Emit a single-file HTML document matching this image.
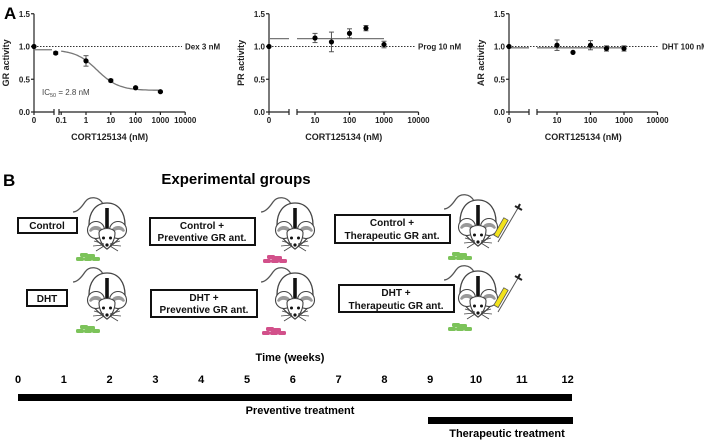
<!DOCTYPE html>
<html><head><meta charset="utf-8">
<style>
html,body{margin:0;padding:0;background:#fff;}
svg{display:block;font-family:"Liberation Sans",Arial,sans-serif;}
.tk{font-size:8px;font-weight:bold;fill:#222;}
.ax{stroke:#222;stroke-width:1.2;fill:none;}
.bx{fill:#fff;stroke:#111;stroke-width:2;}
.bt{font-size:10px;font-weight:bold;fill:#111;text-anchor:middle;font-family:"Liberation Sans Narrow","Liberation Sans",Arial,sans-serif;}
</style></head>
<body>
<svg id="fig" width="704" height="442" viewBox="0 0 704 442">
<defs>
<g id="mouse">
  <path d="M-4,1 C-8,-7 -18,-7 -22,-1 C-26,5 -30,9 -34,9" fill="none" stroke="#555" stroke-width="1.3"/>
  <path d="M0,0 C12,0 18,10 18,22 C18,32 8,40 0,46 C-8,40 -18,32 -18,22 C-18,10 -12,0 0,0Z" fill="#fff" stroke="#444" stroke-width="1.3"/>
  <circle cx="-11" cy="27" r="8.5" fill="#fff" stroke="#444" stroke-width="1.1"/>
  <circle cx="11" cy="27" r="8.5" fill="#fff" stroke="#444" stroke-width="1.1"/>
  <path d="M-18,28 A7,6 0 0 1 -5,26 L-8,28 A5,4 0 0 0 -16,29Z" fill="#999"/>
  <path d="M18,28 A7,6 0 0 0 5,26 L8,28 A5,4 0 0 1 16,29Z" fill="#999"/>
  <path d="M-8,30 C-8,24 8,24 8,30 C8,38 3,44 0,46 C-3,44 -8,38 -8,30Z" fill="#fff" stroke="#444" stroke-width="1.1"/>
  <rect x="-1.8" y="5" width="3.6" height="20" fill="#111"/>
  <circle cx="-3.5" cy="35" r="1.5" fill="#111"/><circle cx="3.5" cy="35" r="1.5" fill="#111"/>
  <circle cx="0" cy="42" r="1.6" fill="#111"/>
  <path d="M-3,41 L-13,38 M-3,42 L-14,43 M-3,43 L-11,48 M3,41 L13,38 M3,42 L14,43 M3,43 L11,48" stroke="#444" stroke-width="0.8"/>
</g>
<g id="pellets">
  <rect x="4" y="0" width="8" height="4" rx="1.5"/><rect x="11" y="1" width="8" height="4" rx="1.5"/>
  <rect x="0" y="4" width="8" height="4" rx="1.5"/><rect x="8" y="4" width="8" height="4" rx="1.5"/><rect x="16" y="4" width="8" height="4" rx="1.5"/>
</g>
<g id="syringe">
  <line x1="0" y1="36" x2="20" y2="2" stroke="#555" stroke-width="1"/>
  <rect x="-2.5" y="0" width="5" height="20" fill="#f2e21c" stroke="#555" stroke-width="0.8" transform="translate(8,13) rotate(30)"/>
  <path d="M17,0 L24,4 M20,2 L22,-2" stroke="#222" stroke-width="2"/>
</g>
</defs>

<text x="4" y="19" font-size="17" font-weight="bold">A</text>
<g id="charts"></g>

<text x="3" y="186" font-size="17" font-weight="bold">B</text>
<text x="236" y="184" font-size="15" font-weight="bold" text-anchor="middle">Experimental groups</text>

<g>
<rect class="bx" x="18" y="218" width="59" height="15"/><text class="bt" x="47" y="229">Control</text>
<use href="#mouse" x="107" y="203"/><use href="#pellets" x="76" y="253" fill="#7cc35a"/>
</g>
<g>
<rect class="bx" x="27" y="290" width="40" height="16"/><text class="bt" x="47" y="302">DHT</text>
<use href="#mouse" x="107" y="273"/><use href="#pellets" x="76" y="325" fill="#7cc35a"/>
</g>
<g>
<rect class="bx" x="150" y="218" width="105" height="27"/><text class="bt" x="202" y="229">Control +</text><text class="bt" x="202" y="241">Preventive GR ant.</text>
<use href="#mouse" x="295" y="203"/><use href="#pellets" x="263" y="255" fill="#d2508a"/>
</g>
<g>
<rect class="bx" x="151" y="290" width="106" height="27"/><text class="bt" x="204" y="301">DHT +</text><text class="bt" x="204" y="313">Preventive GR ant.</text>
<use href="#mouse" x="295" y="273"/><use href="#pellets" x="262" y="327" fill="#d2508a"/>
</g>
<g>
<rect class="bx" x="335" y="215" width="115" height="28"/><text class="bt" x="392" y="226">Control +</text><text class="bt" x="392" y="239">Therapeutic GR ant.</text>
<use href="#mouse" x="478" y="200"/><use href="#pellets" x="448" y="252" fill="#7cc35a"/><use href="#syringe" x="498" y="206"/>
</g>
<g>
<rect class="bx" x="339" y="285" width="115" height="27"/><text class="bt" x="396" y="296">DHT +</text><text class="bt" x="396" y="309">Therapeutic GR ant.</text>
<use href="#mouse" x="478" y="271"/><use href="#pellets" x="448" y="323" fill="#7cc35a"/><use href="#syringe" x="498" y="276"/>
</g>

<text x="290" y="361" font-size="11" font-weight="bold" text-anchor="middle">Time (weeks)</text>
<g id="timeline"></g>
<rect x="18" y="394" width="554" height="7" fill="#000"/>
<text x="300" y="414" font-size="11" font-weight="bold" text-anchor="middle">Preventive treatment</text>
<rect x="428" y="417" width="145" height="7" fill="#000"/>
<text x="507" y="437" font-size="11" font-weight="bold" text-anchor="middle">Therapeutic treatment</text>
</svg>
<script>
const NS="http://www.w3.org/2000/svg";
// chart data
const grConc=[0,0.06,1,10,100,1000];
const grVals=[1.0,0.9,0.78,0.48,0.37,0.31];
const grErr=[0,0.02,0.08,0.02,0.01,0.01];
const prConc=[0,10,30,100,300,1000];
const prVals=[1.0,1.13,1.07,1.2,1.28,1.03];
const prErr=[0,0.07,0.15,0.07,0.04,0.05];
const arConc=[0,10,30,100,300,1000];
const arVals=[1.0,1.02,0.91,1.02,0.97,0.97];
const arErr=[0,0.08,0,0.07,0.04,0.04];
const yTicks=[0,0.5,1.0,1.5];
const yTickLabels=["0.0","0.5","1.0","1.5"];
const grXTicks=[0,0.1,1,10,100,1000,10000];
const otherXTicks=[0,10,100,1000,10000];
const weeks=[0,1,2,3,4,5,6,7,8,9,10,11,12];
const grFit={top:0.95,bottom:0.33,ic50:2.8};
const prFit=1.12, arFit=0.98;

function mk(tag,attrs,parent,name){const e=document.createElementNS(NS,tag);for(const k in attrs)e.setAttribute(k,attrs[k]);
 
 
 parent.appendChild(e);return e;}
const root=document.getElementById('charts');

function chart(cfg){
 const g=mk('g',{},root,cfg.id);
 const y0=112,yk=65.5;
 const Y=v=>y0-v*yk;
 const X=c=>c===0?cfg.x0:cfg.ref+cfg.dec*Math.log10(c/cfg.refc);
 mk('line',{x1:cfg.x0,y1:Y(1.5),x2:cfg.x0,y2:y0,class:'ax'},g,'y-axis');
 yTicks.forEach((t,i)=>{mk('line',{x1:cfg.x0-3,y1:Y(t),x2:cfg.x0,y2:Y(t),class:'ax'},g,'y-tick');
  const tx=mk('text',{x:cfg.x0-4,y:Y(t)+3,class:'tk','text-anchor':'end'},g,'y-tick-label');tx.textContent=yTickLabels[i];});
 mk('line',{x1:cfg.x0,y1:y0,x2:cfg.b1,y2:y0,class:'ax'},g,'x-axis-left');
 mk('line',{x1:cfg.b2,y1:y0,x2:X(10000),y2:y0,class:'ax'},g,'x-axis-right');
 [cfg.b1,cfg.b2].forEach(b=>mk('line',{x1:b,y1:y0-3,x2:b,y2:y0+3,class:'ax'},g,'axis-break'));
 cfg.ticks.forEach(t=>{const x=X(t);mk('line',{x1:x,y1:y0,x2:x,y2:y0+3,class:'ax'},g,'x-tick');
  const tx=mk('text',{x:x,y:y0+11,class:'tk','text-anchor':'middle'},g,'x-tick-label');tx.textContent=String(t);});
 const xt=mk('text',{x:(cfg.x0+X(10000))/2,y:140,'font-size':'9','font-weight':'bold','text-anchor':'middle',fill:'#222'},g,'x-axis-title');xt.textContent='CORT125134 (nM)';
 const yt=mk('text',{x:0,y:0,'font-size':'9','font-weight':'bold','text-anchor':'middle',fill:'#222',transform:`translate(${cfg.x0-25},${Y(0.75)}) rotate(-90)`},g,'y-axis-title');yt.textContent=cfg.ylab;
 mk('line',{x1:cfg.x0,y1:Y(1),x2:cfg.dotEnd,y2:Y(1),stroke:'#333','stroke-width':1,'stroke-dasharray':'1.5,1.5'},g,'reference-line');
 const rl=mk('text',{x:cfg.dotEnd+3,y:Y(1)+3,class:'tk'},g,'reference-label');rl.textContent=cfg.ref_lab;
 cfg.fit(g,X,Y);
 cfg.conc.forEach((c,i)=>{const x=X(c),v=cfg.vals[i],e=cfg.err[i];
  if(e>0){mk('line',{x1:x,y1:Y(v+e),x2:x,y2:Y(v-e),stroke:'#555','stroke-width':1},g,'error-bar');
   [v+e,v-e].forEach(w=>mk('line',{x1:x-2.5,y1:Y(w),x2:x+2.5,y2:Y(w),stroke:'#555','stroke-width':1},g,'error-cap'));}
  mk('circle',{cx:x,cy:Y(v),r:2.6,fill:'#000'},g,'data-point');});
}
chart({id:'gr-chart',x0:34,ref:86,refc:1,dec:24.8,b1:54,b2:59,ticks:grXTicks,ylab:'GR activity',dotEnd:182,ref_lab:'Dex 3 nM',
 conc:grConc,vals:grVals,err:grErr,
 fit:(g,X,Y)=>{const f=c=>grFit.bottom+(grFit.top-grFit.bottom)/(1+c/grFit.ic50);
  mk('line',{x1:34,y1:Y(grFit.top),x2:52,y2:Y(grFit.top),stroke:'#777','stroke-width':1.3},g,'fit-curve-left');
  let d='';for(let k=0;k<=60;k++){const c=Math.pow(10,-1+k*4/60);d+=(k?'L':'M')+X(c).toFixed(1)+','+Y(f(c)).toFixed(1);}
  mk('path',{d:d,fill:'none',stroke:'#777','stroke-width':1.3},g,'fit-curve');
  const t=mk('text',{x:42,y:95,'font-size':'8',fill:'#444'},g,'ic50-label');t.innerHTML='IC<tspan font-size="5.5" dy="2">50</tspan><tspan dy="-2"> = 2.8 nM</tspan>';}});
chart({id:'pr-chart',x0:269,ref:315,refc:10,dec:34.5,b1:289,b2:297,ticks:otherXTicks,ylab:'PR activity',dotEnd:415,ref_lab:'Prog 10 nM',
 conc:prConc,vals:prVals,err:prErr,
 fit:(g,X,Y)=>{mk('line',{x1:269,y1:Y(prFit),x2:289,y2:Y(prFit),stroke:'#777','stroke-width':1.3},g,'fit-line-left');
  mk('line',{x1:297,y1:Y(prFit),x2:X(1000),y2:Y(prFit),stroke:'#777','stroke-width':1.3},g,'fit-line');}});
chart({id:'ar-chart',x0:509,ref:557,refc:10,dec:33.5,b1:529,b2:537,ticks:otherXTicks,ylab:'AR activity',dotEnd:659,ref_lab:'DHT 100 nM',
 conc:arConc,vals:arVals,err:arErr,
 fit:(g,X,Y)=>{mk('line',{x1:509,y1:Y(arFit),x2:529,y2:Y(arFit),stroke:'#777','stroke-width':1.3},g,'fit-line-left');
  mk('line',{x1:537,y1:Y(arFit),x2:X(1000),y2:Y(arFit),stroke:'#777','stroke-width':1.3},g,'fit-line');}});
const tl=document.getElementById('timeline');
weeks.forEach(w=>{const t=mk('text',{x:18+45.8*w,y:383,'font-size':'11','font-weight':'bold','text-anchor':'middle'},tl,'week-label');t.textContent=String(w);});
</script>
</body></html>
